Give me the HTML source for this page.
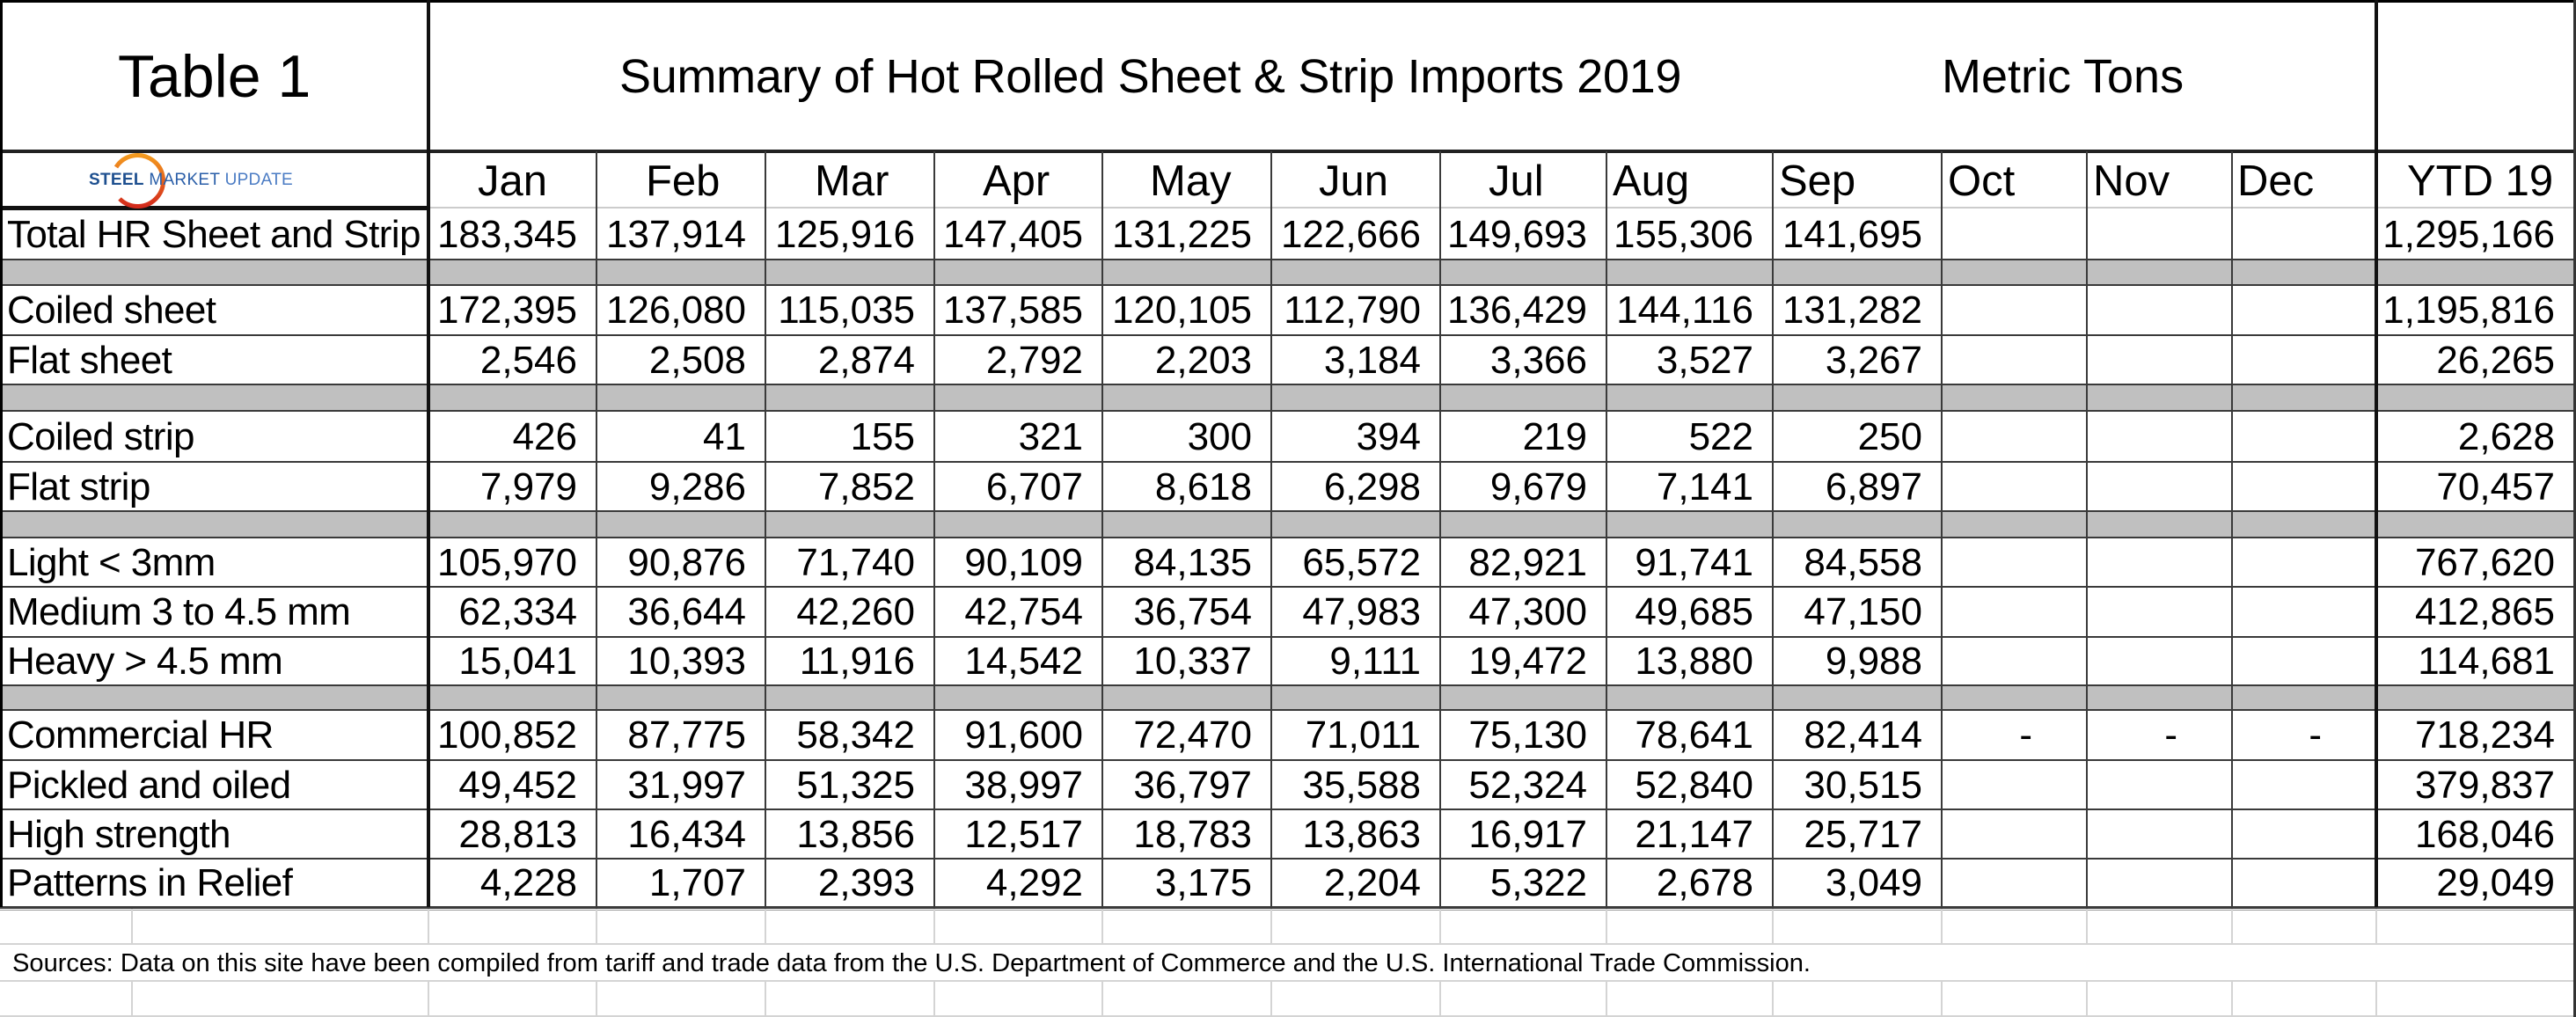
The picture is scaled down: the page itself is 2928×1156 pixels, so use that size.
<!DOCTYPE html>
<html><head><meta charset="utf-8"><style>
*{margin:0;padding:0;box-sizing:border-box}
body{width:2928px;height:1156px;background:#fff;position:relative;overflow:hidden;font-family:"Liberation Sans",Arial,sans-serif;color:#000}
.r{position:absolute;left:0;width:2928px}
.r span{position:absolute;top:0;height:100%;display:flex;align-items:center;justify-content:flex-end;padding-right:22px;font-size:44px;white-space:nowrap}
.r span.l{left:8px;width:480px;justify-content:flex-start;padding:0;letter-spacing:-0.6px}
.g{position:absolute;left:0;width:2928px;background:#c0c0c0}
.c1{left:487px;width:191px}.c2{left:678px;width:192px}.c3{left:870px;width:192px}.c4{left:1062px;width:191px}
.c5{left:1253px;width:192px}.c6{left:1445px;width:192px}.c7{left:1637px;width:189px}.c8{left:1826px;width:189px}
.c9{left:2015px;width:192px}.c10{left:2207px;width:165px}.c11{left:2372px;width:165px}.c12{left:2537px;width:164px}.c13{left:2701px;width:225px}
.h{position:absolute;left:0;width:2928px;height:2px;background:#3a3a3a}
.v{position:absolute;width:2px;background:#3a3a3a}
.t{position:absolute;white-space:nowrap}
</style></head><body>
<div class="g" style="top:295px;height:29px"></div>
<div class="g" style="top:437px;height:30px"></div>
<div class="g" style="top:581px;height:30px"></div>
<div class="g" style="top:779px;height:28px"></div>

<div class="h" style="top:0;height:3px;background:#000"></div>
<div class="h" style="top:170px;height:4px;background:#222"></div>
<div class="h" style="top:235px;background:#ccc"></div>
<div class="h" style="top:234px;width:487px;height:5px;background:#111"></div>
<div class="h" style="top:294px"></div>
<div class="h" style="top:323px"></div>
<div class="h" style="top:380px"></div>
<div class="h" style="top:436px"></div>
<div class="h" style="top:466px"></div>
<div class="h" style="top:524px"></div>
<div class="h" style="top:580px"></div>
<div class="h" style="top:610px"></div>
<div class="h" style="top:666px"></div>
<div class="h" style="top:723px"></div>
<div class="h" style="top:778px"></div>
<div class="h" style="top:806px"></div>
<div class="h" style="top:863px"></div>
<div class="h" style="top:919px"></div>
<div class="h" style="top:975px"></div>
<div class="h" style="top:1030px;height:3px"></div>
<div class="h" style="top:1034px;height:1px;background:#999"></div>
<div class="h" style="top:1072px;background:#d4d4d4"></div>
<div class="h" style="top:1114px;background:#d4d4d4"></div>
<div class="h" style="top:1154px;background:#d4d4d4"></div>

<div class="v" style="left:0;top:0;height:1031px;width:3px;background:#000"></div>
<div class="v" style="left:485px;top:0;height:1031px;width:4px;background:#111"></div>
<div class="v" style="left:2699px;top:0;height:1031px;width:4px;background:#111"></div>
<div class="v" style="left:2925px;top:0;height:1156px;width:3px;background:#333"></div>
<div class="v" style="left:677px;top:172px;height:859px"></div>
<div class="v" style="left:869px;top:172px;height:859px"></div>
<div class="v" style="left:1061px;top:172px;height:859px"></div>
<div class="v" style="left:1252px;top:172px;height:859px"></div>
<div class="v" style="left:1444px;top:172px;height:859px"></div>
<div class="v" style="left:1636px;top:172px;height:859px"></div>
<div class="v" style="left:1825px;top:172px;height:859px"></div>
<div class="v" style="left:2014px;top:172px;height:859px"></div>
<div class="v" style="left:2206px;top:172px;height:859px"></div>
<div class="v" style="left:2371px;top:172px;height:859px"></div>
<div class="v" style="left:2536px;top:172px;height:859px"></div>

<svg style="position:absolute;left:0;top:0" width="2928" height="1156">
<g stroke="#d4d4d4" stroke-width="2">
<path d="M150 1033V1073M487 1033V1073M678 1033V1073M870 1033V1073M1062 1033V1073M1253 1033V1073M1445 1033V1073M1637 1033V1073M1826 1033V1073M2015 1033V1073M2207 1033V1073M2372 1033V1073M2537 1033V1073M2701 1033V1073"/>
<path d="M150 1115V1156M487 1115V1156M678 1115V1156M870 1115V1156M1062 1115V1156M1253 1115V1156M1445 1115V1156M1637 1115V1156M1826 1115V1156M2015 1115V1156M2207 1115V1156M2372 1115V1156M2537 1115V1156M2701 1115V1156"/>
</g>
<defs><linearGradient id="ag" x1="0" y1="0" x2="0" y2="1"><stop offset="0" stop-color="#f39a1e"/><stop offset="1" stop-color="#d42a1c"/></linearGradient></defs>
<path d="M132 190 A29 29 0 1 1 136 226" fill="none" stroke="url(#ag)" stroke-width="5"/>
<text x="14" y="1104" font-family="Liberation Sans, Arial, sans-serif" font-size="29" textLength="2044" lengthAdjust="spacingAndGlyphs">Sources: Data on this site have been compiled from tariff and trade data from the U.S. Department of Commerce and the U.S. International Trade Commission.</text>
</svg>

<div class="t" style="left:134px;top:42px;font-size:68px;line-height:90px">Table 1</div>
<div class="t" style="left:704px;top:54px;font-size:54px;line-height:66px;letter-spacing:-0.3px">Summary of Hot Rolled Sheet &amp; Strip Imports 2019</div>
<div class="t" style="left:2207px;top:54px;font-size:54px;line-height:66px">Metric Tons</div>

<div class="t" style="left:101px;top:193px;font-size:19px;line-height:24px;letter-spacing:0.3px"><b style="color:#1d4f8f">STEEL</b> <b style="color:#2a5ea8;font-weight:normal">MARKET</b> <i style="color:#4b7cc4;font-style:normal">UPDATE</i></div>

<div class="t" style="left:543px;top:176px;font-size:49px;line-height:60px">Jan</div>
<div class="t" style="left:734px;top:176px;font-size:49px;line-height:60px">Feb</div>
<div class="t" style="left:926px;top:176px;font-size:49px;line-height:60px">Mar</div>
<div class="t" style="left:1117px;top:176px;font-size:49px;line-height:60px">Apr</div>
<div class="t" style="left:1307px;top:176px;font-size:49px;line-height:60px">May</div>
<div class="t" style="left:1499px;top:176px;font-size:49px;line-height:60px">Jun</div>
<div class="t" style="left:1692px;top:176px;font-size:49px;line-height:60px">Jul</div>
<div class="t" style="left:1833px;top:176px;font-size:49px;line-height:60px">Aug</div>
<div class="t" style="left:2022px;top:176px;font-size:49px;line-height:60px">Sep</div>
<div class="t" style="left:2214px;top:176px;font-size:49px;line-height:60px">Oct</div>
<div class="t" style="left:2379px;top:176px;font-size:49px;line-height:60px">Nov</div>
<div class="t" style="left:2543px;top:176px;font-size:49px;line-height:60px">Dec</div>
<div class="t" style="left:2736px;top:176px;font-size:49px;line-height:60px">YTD 19</div>

<div class="r" style="top:238px;height:57px"><span class="l">Total HR Sheet and Strip</span><span class="c1">183,345</span><span class="c2">137,914</span><span class="c3">125,916</span><span class="c4">147,405</span><span class="c5">131,225</span><span class="c6">122,666</span><span class="c7">149,693</span><span class="c8">155,306</span><span class="c9">141,695</span><span class="c13">1,295,166</span></div>
<div class="r" style="top:325px;height:56px"><span class="l">Coiled sheet</span><span class="c1">172,395</span><span class="c2">126,080</span><span class="c3">115,035</span><span class="c4">137,585</span><span class="c5">120,105</span><span class="c6">112,790</span><span class="c7">136,429</span><span class="c8">144,116</span><span class="c9">131,282</span><span class="c13">1,195,816</span></div>
<div class="r" style="top:382px;height:55px"><span class="l">Flat sheet</span><span class="c1">2,546</span><span class="c2">2,508</span><span class="c3">2,874</span><span class="c4">2,792</span><span class="c5">2,203</span><span class="c6">3,184</span><span class="c7">3,366</span><span class="c8">3,527</span><span class="c9">3,267</span><span class="c13">26,265</span></div>
<div class="r" style="top:468px;height:57px"><span class="l">Coiled strip</span><span class="c1">426</span><span class="c2">41</span><span class="c3">155</span><span class="c4">321</span><span class="c5">300</span><span class="c6">394</span><span class="c7">219</span><span class="c8">522</span><span class="c9">250</span><span class="c13">2,628</span></div>
<div class="r" style="top:526px;height:55px"><span class="l">Flat strip</span><span class="c1">7,979</span><span class="c2">9,286</span><span class="c3">7,852</span><span class="c4">6,707</span><span class="c5">8,618</span><span class="c6">6,298</span><span class="c7">9,679</span><span class="c8">7,141</span><span class="c9">6,897</span><span class="c13">70,457</span></div>
<div class="r" style="top:612px;height:55px"><span class="l">Light &lt; 3mm</span><span class="c1">105,970</span><span class="c2">90,876</span><span class="c3">71,740</span><span class="c4">90,109</span><span class="c5">84,135</span><span class="c6">65,572</span><span class="c7">82,921</span><span class="c8">91,741</span><span class="c9">84,558</span><span class="c13">767,620</span></div>
<div class="r" style="top:668px;height:56px"><span class="l">Medium 3 to 4.5 mm</span><span class="c1">62,334</span><span class="c2">36,644</span><span class="c3">42,260</span><span class="c4">42,754</span><span class="c5">36,754</span><span class="c6">47,983</span><span class="c7">47,300</span><span class="c8">49,685</span><span class="c9">47,150</span><span class="c13">412,865</span></div>
<div class="r" style="top:725px;height:54px"><span class="l">Heavy &gt; 4.5 mm</span><span class="c1">15,041</span><span class="c2">10,393</span><span class="c3">11,916</span><span class="c4">14,542</span><span class="c5">10,337</span><span class="c6">9,111</span><span class="c7">19,472</span><span class="c8">13,880</span><span class="c9">9,988</span><span class="c13">114,681</span></div>
<div class="r" style="top:808px;height:56px"><span class="l">Commercial HR</span><span class="c1">100,852</span><span class="c2">87,775</span><span class="c3">58,342</span><span class="c4">91,600</span><span class="c5">72,470</span><span class="c6">71,011</span><span class="c7">75,130</span><span class="c8">78,641</span><span class="c9">82,414</span><span class="c10" style="padding-right:62px">-</span><span class="c11" style="padding-right:62px">-</span><span class="c12" style="padding-right:62px">-</span><span class="c13">718,234</span></div>
<div class="r" style="top:865px;height:55px"><span class="l">Pickled and oiled</span><span class="c1">49,452</span><span class="c2">31,997</span><span class="c3">51,325</span><span class="c4">38,997</span><span class="c5">36,797</span><span class="c6">35,588</span><span class="c7">52,324</span><span class="c8">52,840</span><span class="c9">30,515</span><span class="c13">379,837</span></div>
<div class="r" style="top:921px;height:55px"><span class="l">High strength</span><span class="c1">28,813</span><span class="c2">16,434</span><span class="c3">13,856</span><span class="c4">12,517</span><span class="c5">18,783</span><span class="c6">13,863</span><span class="c7">16,917</span><span class="c8">21,147</span><span class="c9">25,717</span><span class="c13">168,046</span></div>
<div class="r" style="top:977px;height:54px"><span class="l">Patterns in Relief</span><span class="c1">4,228</span><span class="c2">1,707</span><span class="c3">2,393</span><span class="c4">4,292</span><span class="c5">3,175</span><span class="c6">2,204</span><span class="c7">5,322</span><span class="c8">2,678</span><span class="c9">3,049</span><span class="c13">29,049</span></div>
</body></html>
